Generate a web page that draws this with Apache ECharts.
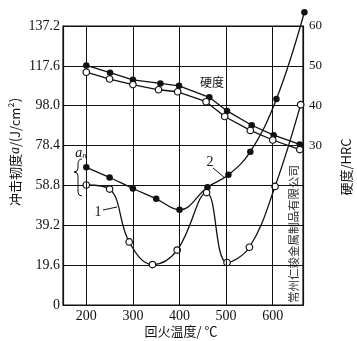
<!DOCTYPE html>
<html><head><meta charset="utf-8">
<script src="https://cdn.jsdelivr.net/npm/echarts@6/dist/echarts.min.js"></script>
<style>html,body{margin:0;padding:0;background:#fff}#c{width:357px;height:341px}</style>
</head><body><div id="c"></div>
<script>
// tick labels
const xTicks = [200, 300, 400, 500, 600];
const hrcTicks = [30, 40, 50, 60];
// hardness (HRC), black dots and open circles
const hardBlackT = [200, 251, 300, 359, 399, 464, 502, 555, 602, 658];
const hardBlack  = [50.1, 48.3, 46.5, 45.6, 45.0, 42.1, 38.7, 35.1, 32.6, 30.3];
const hardOpenT  = [200, 250, 300, 355, 396, 457, 497, 552, 600, 658];
const hardOpen   = [48.4, 46.7, 45.3, 44.0, 43.5, 41.0, 37.3, 33.8, 31.4, 29.0];
// impact toughness a_n (J/cm2), curve 2 (black) and curve 1 (open)
const curve2T = [200, 250, 300, 350, 400, 460, 505, 552, 608, 668];
const curve2A = [67.7, 62.7, 57.3, 52.2, 46.8, 57.9, 64.0, 75.4, 101.3, 144];
const curve1T = [200, 250, 292, 342, 395, 458, 502, 550, 605, 660];
const curve1A = [59.0, 57.0, 31.0, 19.9, 27.0, 55.3, 20.9, 28.4, 58.3, 98.5];

const zip = (a, b) => a.map((v, i) => [v, b[i]]);
const INK = '#111';
const serif = 'Liberation Serif';

const chart = echarts.init(document.getElementById('c'), null, {renderer: 'canvas'});
const blackDot = {color: INK};
const openDot = {color: '#fff', borderColor: INK, borderWidth: 1.2};
const line = {color: INK, width: 1.3};
const ln = (x1, y1, x2, y2) => ({type: 'line', shape: {x1, y1, x2, y2}, style: {stroke: INK, lineWidth: 1}});
const bz = (x1, y1, cpx1, cpy1, x2, y2) => ({type: 'bezierCurve', shape: {x1, y1, cpx1, cpy1, x2, y2}, style: {stroke: INK, fill: null, lineWidth: 1}});

chart.setOption({
  animation: false,
  backgroundColor: '#fff',
  grid: {left: 63, right: 54, top: 26, bottom: 36, show: true, borderColor: INK, borderWidth: 1.2},
  xAxis: {
    type: 'value', min: 150, max: 665, interval: 50,
    axisLine: {show: true, lineStyle: {color: INK, width: 1.2}},
    axisTick: {show: false}, splitLine: {show: false},
    axisLabel: {formatter: v => xTicks.includes(v) ? String(v) : '', color: INK, fontFamily: serif, fontSize: 14, margin: 4}
  },
  yAxis: [{
    type: 'value', min: 0, max: 137.2, interval: 19.6,
    axisLine: {show: true, lineStyle: {color: INK, width: 1.2}},
    axisTick: {show: false},
    splitLine: {show: true, lineStyle: {color: INK, width: 1}},
    axisLabel: {formatter: v => Math.abs(v) < 1e-6 ? '0' : v.toFixed(1), color: INK, fontFamily: serif, fontSize: 14, margin: 3}
  }, {
    type: 'value', position: 'right', min: -10, max: 60, interval: 10,
    axisLine: {show: true, lineStyle: {color: INK, width: 1.2}},
    axisTick: {show: false}, splitLine: {show: false},
    axisLabel: {formatter: v => hrcTicks.includes(v) ? String(v) : '', color: INK, fontFamily: serif, fontSize: 13, margin: 6}
  }],
  series: [
    {type: 'line', name: 'hardBlack', yAxisIndex: 1, data: zip(hardBlackT, hardBlack),
     symbol: 'circle', symbolSize: 6.5, itemStyle: blackDot, lineStyle: line, z: 5,
     markLine: {silent: true, symbol: 'none', label: {show: false},
       lineStyle: {color: INK, width: 1, type: 'solid'},
       data: xTicks.map(t => ({xAxis: t}))}},
    {type: 'line', name: 'hardOpen', yAxisIndex: 1, data: zip(hardOpenT, hardOpen),
     symbol: 'circle', symbolSize: 6.5, itemStyle: openDot, lineStyle: line, z: 5},
    {type: 'line', name: 'curve2', yAxisIndex: 0, data: zip(curve2T, curve2A), smooth: 0.4, clip: false,
     symbol: 'circle', symbolSize: 6.5, itemStyle: blackDot, lineStyle: line, z: 4},
    {type: 'line', name: 'curve1', yAxisIndex: 0, data: zip(curve1T, curve1A), smooth: 0.4, clip: false,
     symbol: 'circle', symbolSize: 6.5, itemStyle: openDot, lineStyle: line, z: 4}
  ],
  graphic: [
    {type: 'text', x: 15, y: 152, rotation: Math.PI / 2,
     style: {text: '冲击韧度{i|a}/(J/cm²)', font: '13px "Noto Sans CJK SC"', fill: INK, align: 'center', verticalAlign: 'middle',
       rich: {i: {font: 'italic 14px "Liberation Serif"', fill: INK}}}},
    {type: 'text', x: 346, y: 167, rotation: Math.PI / 2,
     style: {text: '硬度/HRC', font: '13px "Noto Sans CJK SC"', fill: INK, align: 'center', verticalAlign: 'middle'}},
    {type: 'text', x: 181, y: 331,
     style: {text: '回火温度/ ℃', font: '13px "Noto Sans CJK SC"', fill: INK, align: 'center', verticalAlign: 'middle'}},
    {type: 'text', x: 212, y: 82,
     style: {text: '硬度', font: '12px "Noto Sans CJK SC"', fill: INK, align: 'center', verticalAlign: 'middle'}},
    {type: 'text', x: 210, y: 162,
     style: {text: '2', font: '14px "Liberation Serif"', fill: INK, align: 'center', verticalAlign: 'middle'}},
    ln(213, 168, 225, 178),
    {type: 'text', x: 98, y: 212,
     style: {text: '1', font: '14px "Liberation Serif"', fill: INK, align: 'center', verticalAlign: 'middle'}},
    ln(103, 210, 117, 207),
    {type: 'text', x: 81, y: 153,
     style: {text: '{a|a}{n|n}', align: 'center', verticalAlign: 'middle',
       rich: {a: {font: 'italic 14px "Liberation Serif"', fill: INK}, n: {font: 'italic 9px "Liberation Serif"', fill: INK, verticalAlign: 'bottom', padding: [6, 0, 0, 0]}}}},
    bz(82, 159, 78, 159, 78, 164), ln(78, 164, 78, 168), bz(78, 168, 78, 172, 74, 172),
    bz(74, 172, 78, 172, 78, 176), ln(78, 176, 78, 192), bz(78, 192, 78, 196, 82, 196),
    {type: 'text', x: 294, y: 234, rotation: Math.PI / 2,
     style: {text: '常州仁竣金属制品有限公司', font: '11.5px "Noto Sans CJK SC"', fill: '#333', align: 'center', verticalAlign: 'middle'}}
  ]
});
</script></body></html>
